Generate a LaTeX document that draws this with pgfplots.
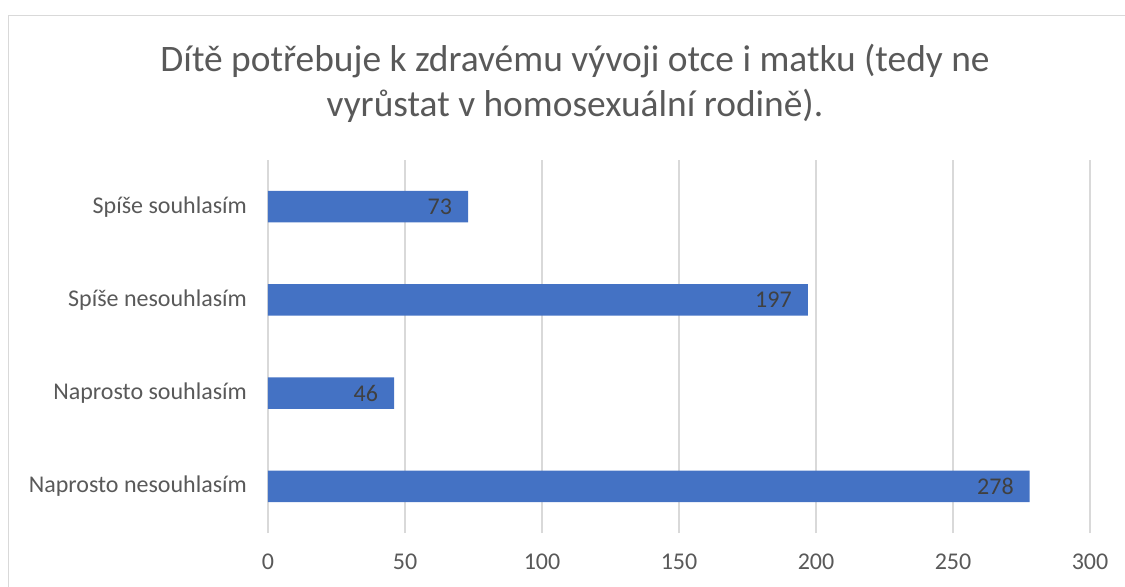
\documentclass[border=0pt]{standalone}
\usepackage{fontspec}
\setmainfont{Carlito}
\usepackage{pgfplots}
\pgfplotsset{compat=1.18}
\definecolor{barblue}{HTML}{4472C4}
\definecolor{gridgray}{HTML}{D9D9D9}
\definecolor{txtgray}{HTML}{595959}
\definecolor{lblgray}{HTML}{404040}
\begin{document}
\begin{tikzpicture}[x=0.5pt,y=0.5pt]
\useasboundingbox (0,0) rectangle (1125,586);
\clip (0,0) rectangle (1125,586);
\draw[gridgray, line width=0.75pt] (8.5,570.5) rectangle (1140,-20);
\node[txtgray, font=\fontsize{18.7}{22.5}\selectfont, align=center] at (575,503) {Dítě potřebuje k zdravému vývoji otce i matku (tedy ne\\vyrůstat v homosexuální rodině).};
\begin{axis}[
  at={(134pt,26.5pt)}, anchor=south west,
  scale only axis, width=411pt, height=186.5pt,
  xbar, xmin=0, xmax=300, ymin=-0.5, ymax=3.5,
  ytick={0,1,2,3},
  yticklabels={Naprosto nesouhlasím,Naprosto souhlasím,Spíše nesouhlasím,Spíše souhlasím},
  xtick={0,50,100,150,200,250,300},
  xmajorgrids, grid style={gridgray, line width=0.75pt},
  axis line style={draw=none},
  major tick length=0pt,
  tick label style={txtgray, font=\fontsize{12}{14}\selectfont},
  yticklabel style={xshift=-7pt},
  xticklabel style={yshift=-7pt},
  /pgf/number format/assume math mode=true,
  bar width=0.34,
  nodes near coords,
  nodes near coords style={anchor=east, lblgray, font=\fontsize{12}{14}\selectfont, xshift=-4.5pt},
]
\addplot[fill=barblue, draw=none] coordinates {(278,0) (46,1) (197,2) (73,3)};
\end{axis}
\end{tikzpicture}
\end{document}
